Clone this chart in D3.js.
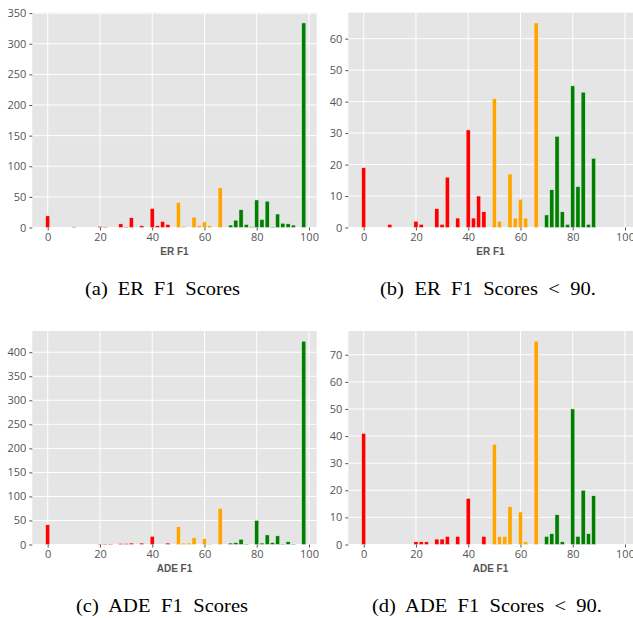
<!DOCTYPE html>
<html>
<head>
<meta charset="utf-8">
<script src="https://cdn.jsdelivr.net/npm/d3@7"></script>
<style>
  html, body { margin: 0; padding: 0; background: #fff; }
  svg { display: block; }
</style>
</head>
<body>
<svg id="chart" width="633" height="618"></svg>
<script>
// ---- Data ----
const erBins   = [0,10,20,22,28,30,32,36,40,42,44,46,50,52,56,58,60,62,66,70,72,74,76,78,80,82,84,86,88,90,92,94,98];
const erCounts = [19,1,2,1,6,1,16,3,31,3,10,5,41,2,17,3,9,3,65,4,12,29,5,1,45,13,43,1,22,7,6,4,334];

const adeBins   = [0,20,22,24,28,30,32,36,40,46,50,52,54,56,60,62,66,70,72,74,76,80,82,84,86,88,90,92,94,98];
const adeCounts = [41,1,1,1,2,2,3,3,17,3,37,3,3,14,12,1,75,3,4,11,1,50,3,20,4,18,1,6,1,423];

const xTickLabels = [0,20,40,60,80,100];
const yTicksA = [0,50,100,150,200,250,300,350];
const yTicksB = [0,10,20,30,40,50,60];
const yTicksC = [0,50,100,150,200,250,300,350,400];
const yTicksD = [0,10,20,30,40,50,60,70];

const captions = ["(a) ER F1 Scores", "(b) ER F1 Scores < 90.", "(c) ADE F1 Scores", "(d) ADE F1 Scores < 90."];
const axisLabels = ["ER F1", "ER F1", "ADE F1", "ADE F1"];

function colorFor(v) {
  if (v < 50) return "#ff0000";
  if (v < 70) return "#ffa500";
  return "#008000";
}

const svg = d3.select("#chart");

const panels = [
  {bins: erBins, counts: erCounts, limit: null, yTicks: yTicksA, box: {l: 32.3, r: 316.7, t: 12.7, b: 227.5}, cap: {x: 162.5, y: 295, w: 155}},
  {bins: erBins, counts: erCounts, limit: 90,   yTicks: yTicksB, box: {l: 348.3, r: 633, t: 12.7, b: 227.5}, cap: {x: 488, y: 295, w: 216}},
  {bins: adeBins, counts: adeCounts, limit: null, yTicks: yTicksC, box: {l: 32.3, r: 316.7, t: 331, b: 544.5}, cap: {x: 162, y: 612, w: 172}},
  {bins: adeBins, counts: adeCounts, limit: 90,   yTicks: yTicksD, box: {l: 348.3, r: 633, t: 331, b: 544.5}, cap: {x: 487, y: 612, w: 230}}
];

const capScale = 1.08;

panels.forEach((p, i) => {
  let data = p.bins.map((b, k) => ({bin: b, count: p.counts[k]}));
  if (p.limit !== null) data = data.filter(d => d.bin < p.limit);
  const maxC = d3.max(data, d => d.count);

  const x = d3.scaleLinear().domain([-5.89, 102.95]).range([p.box.l, p.box.l + (102.95 + 5.89) * 2.613]);
  const y = d3.scaleLinear().domain([0, maxC * 1.05]).range([p.box.b, p.box.t]);

  const g = svg.append("g");
  g.append("rect")
    .attr("x", p.box.l).attr("y", p.box.t)
    .attr("width", p.box.r - p.box.l).attr("height", p.box.b - p.box.t + 0.5)
    .attr("fill", "#e5e5e5");

  // grid
  g.selectAll(".gx").data(xTickLabels).join("line")
    .attr("x1", d => x(d)).attr("x2", d => x(d))
    .attr("y1", p.box.t).attr("y2", p.box.b)
    .attr("stroke", "#ffffff").attr("stroke-width", 1);
  g.selectAll(".gy").data(p.yTicks).join("line")
    .attr("x1", p.box.l).attr("x2", p.box.r)
    .attr("y1", d => y(d)).attr("y2", d => y(d))
    .attr("stroke", "#ffffff").attr("stroke-width", 1);

  // bars
  const bw = 1.6;
  g.selectAll(".bar").data(data).join("rect")
    .attr("x", d => x(d.bin - bw / 2))
    .attr("width", d => x(d.bin + bw / 2) - x(d.bin - bw / 2))
    .attr("y", d => y(d.count))
    .attr("height", d => y(0) - y(d.count))
    .attr("fill", d => colorFor(d.bin))
    .attr("stroke", "#eeeeee").attr("stroke-width", 0.5);

  // axes
  const xAxis = d3.axisBottom(x).tickValues(xTickLabels).tickSize(3).tickPadding(3);
  const gx = g.append("g").attr("transform", `translate(0,${p.box.b})`).call(xAxis);
  gx.select(".domain").remove();
  gx.selectAll("line").attr("stroke", "#555555");
  gx.selectAll("text").attr("fill", "#555555").style("font-family", "'Open Sans', 'Noto Sans', sans-serif").style("font-size", "11px");

  const yAxis = d3.axisLeft(y).tickValues(p.yTicks).tickSize(3).tickPadding(3);
  const gy = g.append("g").attr("transform", `translate(${p.box.l},0)`).call(yAxis);
  gy.select(".domain").remove();
  gy.selectAll("line").attr("stroke", "#555555");
  gy.selectAll("text").attr("fill", "#555555").style("font-family", "'Open Sans', 'Noto Sans', sans-serif").style("font-size", "11px");

  // axis label
  g.append("text")
    .attr("x", p.box.l + 142.2)
    .attr("y", p.box.b + 27)
    .attr("text-anchor", "middle")
    .attr("fill", "#555555")
    .style("font-family", "'Liberation Sans', Arial, sans-serif")
    .style("font-weight", "bold")
    .style("font-size", "10px")
    .text(axisLabels[i]);

  // caption
  const cap = svg.append("text")
    .attr("transform", `translate(${p.cap.x},${p.cap.y}) scale(${capScale},1)`)
    .attr("text-anchor", "middle")
    .attr("fill", "#000")
    .style("font-family", "'Liberation Serif', 'Times New Roman', serif")
    .style("font-size", "19px")
    .text(captions[i]);
  const natural = cap.node().getComputedTextLength();
  const nSpaces = (captions[i].match(/ /g) || []).length;
  const ws = Math.max(0, (p.cap.w / capScale - natural) / nSpaces);
  cap.style("word-spacing", ws + "px");
});
</script>
</body>
</html>
